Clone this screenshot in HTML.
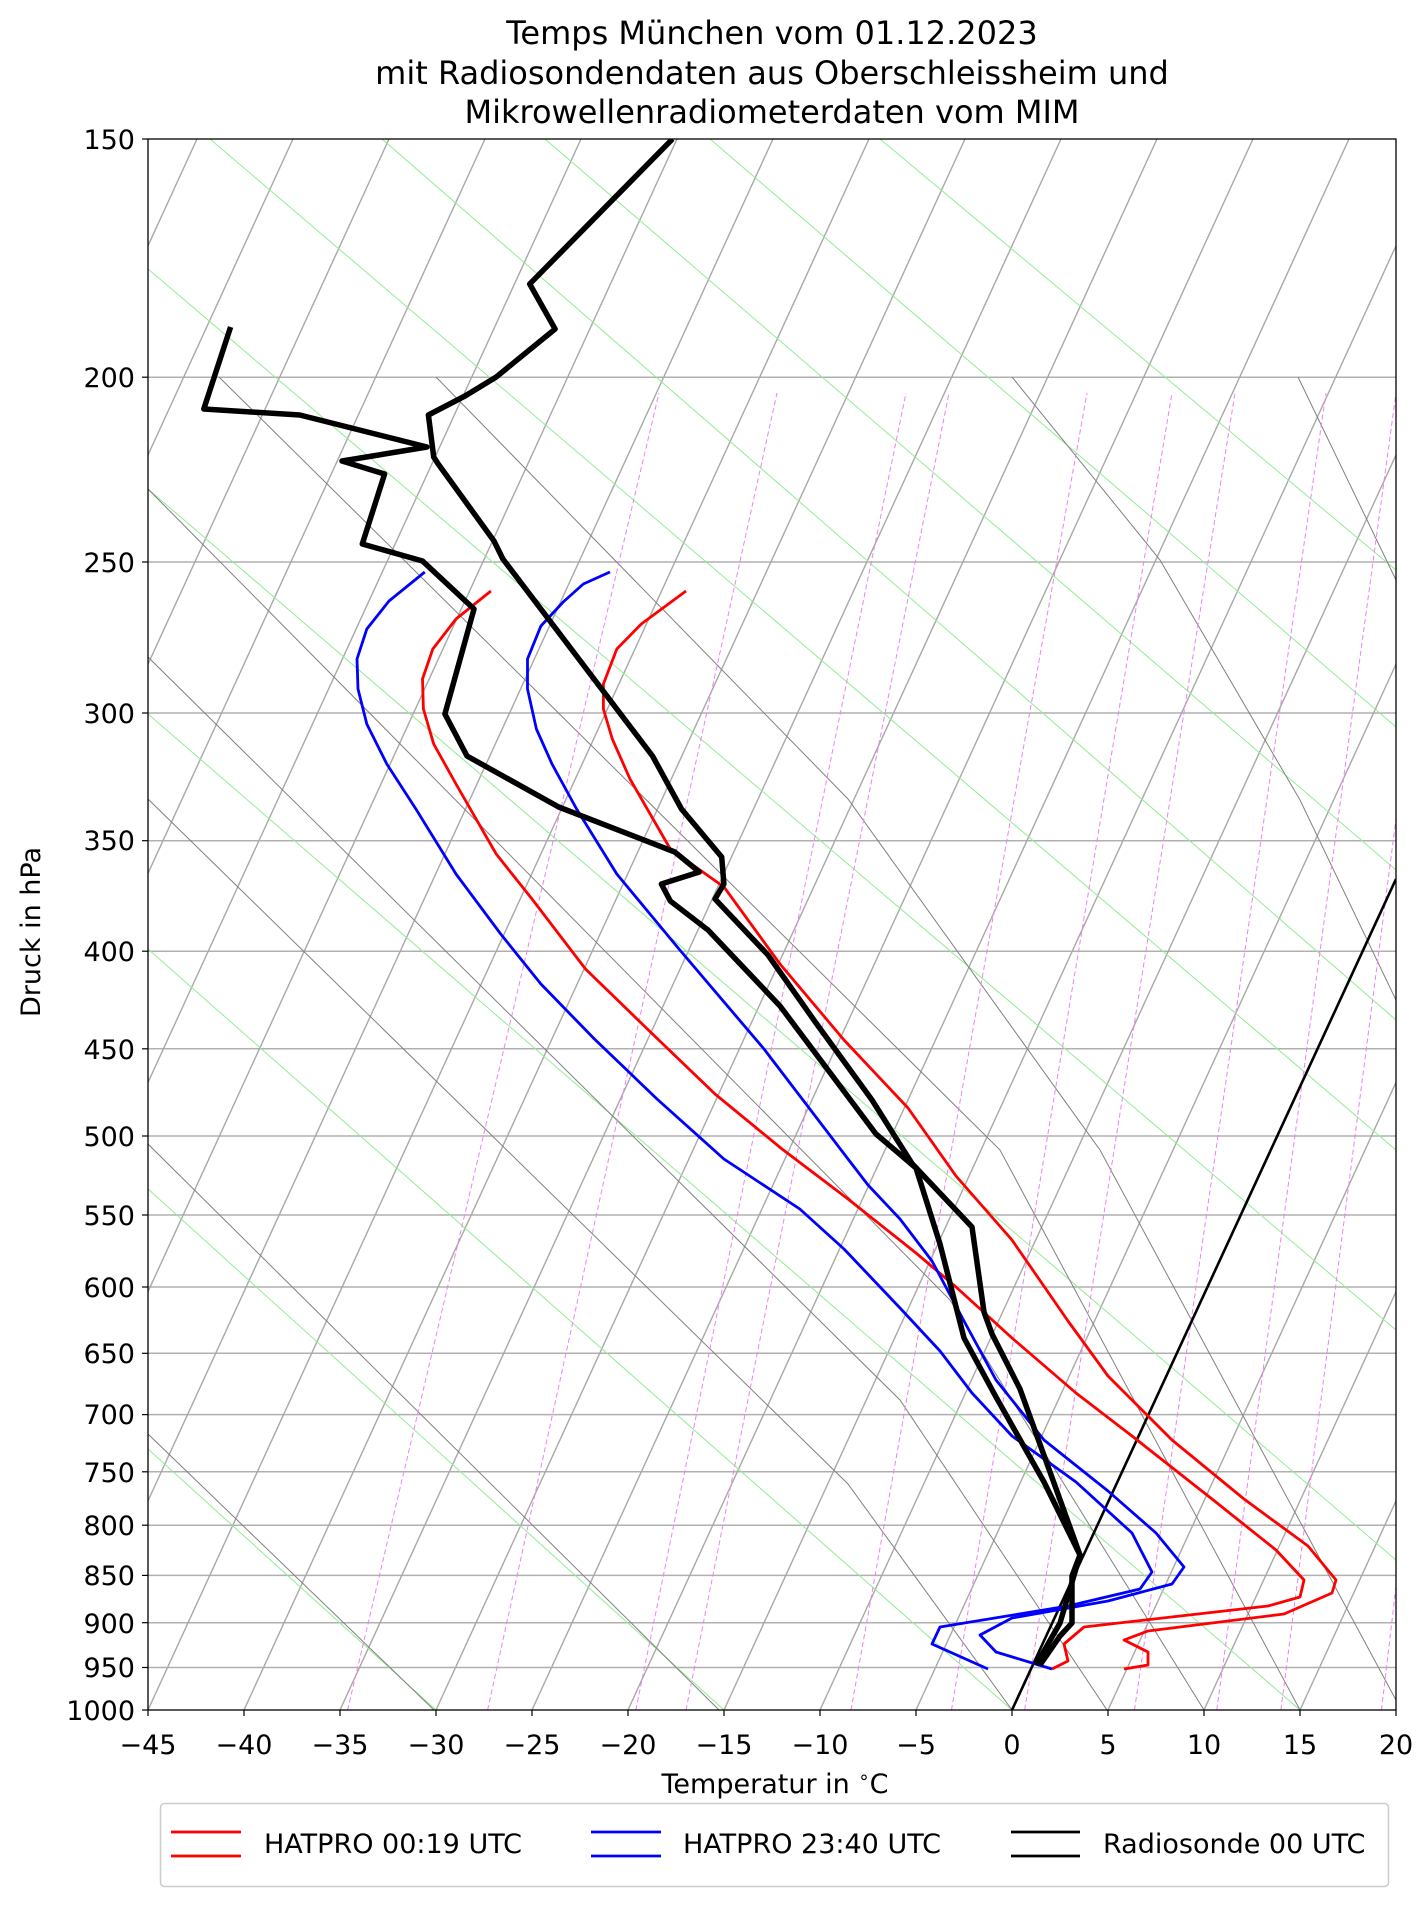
<!DOCTYPE html>
<html><head><meta charset="utf-8"><style>
html,body{margin:0;padding:0;background:#fff;}
svg{display:block;font-family:"DejaVu Sans","Liberation Sans",sans-serif;}
</style></head><body>
<svg width="1427" height="1907" viewBox="0 0 1427 1907" xmlns="http://www.w3.org/2000/svg">
<defs><clipPath id="c"><rect x="148" y="139" width="1248" height="1571"/></clipPath></defs>
<rect width="1427" height="1907" fill="#fff"/>
<g text-anchor="middle" font-size="32" fill="#000">
<text x="772" y="44">Temps München vom 01.12.2023</text>
<text x="772" y="84">mit Radiosondendaten aus Oberschleissheim und</text>
<text x="772" y="123">Mikrowellenradiometerdaten vom MIM</text>
</g>
<g clip-path="url(#c)">
<g stroke="#b0b0b0" stroke-width="1.5">
<line x1="148" x2="1396" y1="377.2" y2="377.2"/><line x1="148" x2="1396" y1="562" y2="562"/>
<line x1="148" x2="1396" y1="713" y2="713"/><line x1="148" x2="1396" y1="840.7" y2="840.7"/>
<line x1="148" x2="1396" y1="951.2" y2="951.2"/><line x1="148" x2="1396" y1="1048.8" y2="1048.8"/>
<line x1="148" x2="1396" y1="1136" y2="1136"/><line x1="148" x2="1396" y1="1215" y2="1215"/>
<line x1="148" x2="1396" y1="1287" y2="1287"/><line x1="148" x2="1396" y1="1353.3" y2="1353.3"/>
<line x1="148" x2="1396" y1="1414.6" y2="1414.6"/><line x1="148" x2="1396" y1="1471.8" y2="1471.8"/>
<line x1="148" x2="1396" y1="1525.2" y2="1525.2"/><line x1="148" x2="1396" y1="1575.4" y2="1575.4"/>
<line x1="148" x2="1396" y1="1622.7" y2="1622.7"/><line x1="148" x2="1396" y1="1667.5" y2="1667.5"/>
</g>
<g stroke="#a8a8a8" stroke-width="1.4">
<line x1="-620" y1="1710" x2="101" y2="139"/><line x1="-524" y1="1710" x2="197" y2="139"/>
<line x1="-428" y1="1710" x2="293" y2="139"/><line x1="-332" y1="1710" x2="389" y2="139"/>
<line x1="-236" y1="1710" x2="485" y2="139"/><line x1="-140" y1="1710" x2="581" y2="139"/>
<line x1="-44" y1="1710" x2="677" y2="139"/><line x1="52" y1="1710" x2="773" y2="139"/>
<line x1="148" y1="1710" x2="869" y2="139"/><line x1="244" y1="1710" x2="965" y2="139"/>
<line x1="340" y1="1710" x2="1061" y2="139"/><line x1="436" y1="1710" x2="1157" y2="139"/>
<line x1="532" y1="1710" x2="1253" y2="139"/><line x1="628" y1="1710" x2="1349" y2="139"/>
<line x1="724" y1="1710" x2="1445" y2="139"/><line x1="820" y1="1710" x2="1541" y2="139"/>
<line x1="916" y1="1710" x2="1637" y2="139"/><line x1="1108" y1="1710" x2="1829" y2="139"/>
<line x1="1204" y1="1710" x2="1925" y2="139"/><line x1="1300" y1="1710" x2="2021" y2="139"/>
</g>
<g stroke="#90ee90" stroke-width="1" fill="none">
<line x1="148" y1="1449" x2="436" y2="1710"/><line x1="148" y1="1189" x2="724" y2="1710"/>
<line x1="148" y1="949" x2="1012" y2="1710"/><line x1="148" y1="714" x2="1300" y2="1710"/>
<line x1="148" y1="489" x2="1396" y2="1560"/><line x1="148" y1="269" x2="1396" y2="1330"/>
<line x1="210" y1="139" x2="1396" y2="1150"/><line x1="382" y1="139" x2="1396" y2="1020"/>
<line x1="545" y1="139" x2="1396" y2="870"/><line x1="710" y1="139" x2="1396" y2="727"/>
<line x1="880" y1="139" x2="1396" y2="570"/>
</g>
<g stroke="#808080" stroke-width="1" fill="none">
<polyline points="148,1434 434,1710"/><polyline points="148,1144 719,1710"/>
<polyline points="148,799 848,1484 1012,1710"/>
<polyline points="148,657 900,1400 1107,1710"/>
<polyline points="148,489 950,1300 1204,1710"/>
<polyline points="219,377 1000,1150 1300,1710"/>
<polyline points="436,377 848,799 1100,1150 1396,1700"/>
<polyline points="1012,377 1160,560 1300,800 1396,1000"/>
<polyline points="1298,377 1396,580"/>
</g>
<g stroke="#ee82ee" stroke-width="1" stroke-dasharray="5,3" fill="none">
<line x1="347.6" y1="1710" x2="659" y2="393"/><line x1="487.6" y1="1710" x2="777" y2="393"/>
<line x1="635.8" y1="1710" x2="906" y2="393"/><line x1="686" y1="1710" x2="949" y2="393"/>
<line x1="851" y1="1710" x2="1087" y2="393"/><line x1="951.5" y1="1710" x2="1172" y2="393"/>
<line x1="1024.7" y1="1710" x2="1235" y2="393"/><line x1="1134.5" y1="1710" x2="1326" y2="393"/>
<line x1="1216.8" y1="1710" x2="1396" y2="393"/><line x1="1280.9" y1="1710" x2="1451" y2="393"/>
<line x1="1381.5" y1="1710" x2="1536" y2="393"/>
</g>
<line x1="1012" y1="1710" x2="1396" y2="879" stroke="#000" stroke-width="2.6"/>
<g fill="none" stroke-linejoin="round" stroke-width="2.8">
<polyline stroke="#ff0000" points="686,591 641.3,624 616.8,649 603.4,684 603.4,709 612.3,739 630,779 670.3,849 724,887 780,964 844,1040 908,1108 956,1176 1012,1240 1068,1321 1108,1376 1172,1440 1244,1499 1308,1546 1336,1580 1332,1593 1284,1614 1148,1631 1124,1640 1148,1652 1148,1665 1124,1669"/>
<polyline stroke="#ff0000" points="490.9,591 456,619 432.8,649 422.5,679 423.4,709 433.7,744 456,784 496.2,854 532,899 585.5,969 652.5,1034 715,1094 782,1149 848,1199 916,1253 956,1287 1012,1338 1076,1393 1132,1436 1212,1499 1276,1550 1304,1580 1300,1597 1268,1606 1084,1627 1064,1644 1068,1661 1052,1669"/>
<polyline stroke="#0000ff" points="610,572 583.3,584 563.2,602 540.9,626 527.5,659 527.5,689 536.4,729 552,764 576.6,809 616.8,874 679,949 764,1049 848,1159 868,1185 900,1219 932,1261 964,1321 996,1380 1044,1440 1108,1491 1156,1533 1184,1567 1172,1584 1108,1601 1012,1618 980,1635 996,1652 1052,1669"/>
<polyline stroke="#0000ff" points="424.8,572 389,601 366.8,629 357,659 358,689 366.8,724 386.8,764 415.9,809 456,874 500.7,934 540.9,984 594.4,1039 657,1099 723.9,1159 799.8,1209 844,1249 900,1308 940,1351 972,1393 1012,1436 1076,1482 1132,1533 1152,1572 1140,1589 1068,1606 940,1627 932,1644 988,1669"/>
</g>
<g fill="none" stroke="#000" stroke-linejoin="round" stroke-width="5.5">
<polyline points="672.5,139 529.7,284 555.1,329 496.2,377 465,396 428.4,415 433.7,457 438.2,464 494,541 502.9,559 652.5,756 681.5,809 721.7,857 723.9,884 715,899 768,955 816,1023 872,1100 912,1163.5 972,1227 984,1312 992,1334 1020,1389 1080,1555 1072,1576 1072,1623 1060,1636 1040,1665"/>
<polyline points="230.6,327 203.8,409 299.8,415 427,447 342,461 384.6,474 362.3,544 422.5,561 474,609 444.9,714 467,756 558.7,807 674.8,852 699.3,872 661.4,884 670.3,901 708,930 780,1006 876,1134 916,1168 940,1244 964,1338 996,1397 1044,1482 1080,1555 1060,1623 1036,1665"/>
</g>
</g>
<rect x="148" y="139" width="1248" height="1571" fill="none" stroke="#000" stroke-width="1.3"/>
<g stroke="#000" stroke-width="1.2">
<line x1="142" x2="148" y1="139" y2="139"/><line x1="142" x2="148" y1="377.2" y2="377.2"/><line x1="142" x2="148" y1="562" y2="562"/><line x1="142" x2="148" y1="713" y2="713"/><line x1="142" x2="148" y1="840.7" y2="840.7"/><line x1="142" x2="148" y1="951.2" y2="951.2"/><line x1="142" x2="148" y1="1048.8" y2="1048.8"/><line x1="142" x2="148" y1="1136" y2="1136"/><line x1="142" x2="148" y1="1215" y2="1215"/><line x1="142" x2="148" y1="1287" y2="1287"/><line x1="142" x2="148" y1="1353.3" y2="1353.3"/><line x1="142" x2="148" y1="1414.6" y2="1414.6"/><line x1="142" x2="148" y1="1471.8" y2="1471.8"/><line x1="142" x2="148" y1="1525.2" y2="1525.2"/><line x1="142" x2="148" y1="1575.4" y2="1575.4"/><line x1="142" x2="148" y1="1622.7" y2="1622.7"/><line x1="142" x2="148" y1="1667.5" y2="1667.5"/><line x1="142" x2="148" y1="1710" y2="1710"/>
<line x1="148" x2="148" y1="1710" y2="1716"/><line x1="244" x2="244" y1="1710" y2="1716"/><line x1="340" x2="340" y1="1710" y2="1716"/><line x1="436" x2="436" y1="1710" y2="1716"/><line x1="532" x2="532" y1="1710" y2="1716"/><line x1="628" x2="628" y1="1710" y2="1716"/><line x1="724" x2="724" y1="1710" y2="1716"/><line x1="820" x2="820" y1="1710" y2="1716"/><line x1="916" x2="916" y1="1710" y2="1716"/><line x1="1012" x2="1012" y1="1710" y2="1716"/><line x1="1108" x2="1108" y1="1710" y2="1716"/><line x1="1204" x2="1204" y1="1710" y2="1716"/><line x1="1300" x2="1300" y1="1710" y2="1716"/><line x1="1396" x2="1396" y1="1710" y2="1716"/>
</g>
<g font-size="27" text-anchor="end" fill="#000">
<text x="135" y="149">150</text><text x="135" y="387">200</text><text x="135" y="572">250</text><text x="135" y="723">300</text><text x="135" y="850">350</text><text x="135" y="961">400</text><text x="135" y="1059">450</text><text x="135" y="1146">500</text><text x="135" y="1225">550</text><text x="135" y="1297">600</text><text x="135" y="1363">650</text><text x="135" y="1424">700</text><text x="135" y="1482">750</text><text x="135" y="1535">800</text><text x="135" y="1585">850</text><text x="135" y="1633">900</text><text x="135" y="1677">950</text><text x="135" y="1720">1000</text>
</g>
<g font-size="27" text-anchor="middle" fill="#000">
<text x="148" y="1754">−45</text><text x="244" y="1754">−40</text><text x="340" y="1754">−35</text><text x="436" y="1754">−30</text><text x="532" y="1754">−25</text><text x="628" y="1754">−20</text><text x="724" y="1754">−15</text><text x="820" y="1754">−10</text><text x="916" y="1754">−5</text><text x="1012" y="1754">0</text><text x="1108" y="1754">5</text><text x="1204" y="1754">10</text><text x="1300" y="1754">15</text><text x="1396" y="1754">20</text>
<text x="775" y="1793">Temperatur in <tspan dy="-10" font-size="18">∘</tspan><tspan dy="10">C</tspan></text>
</g>
<text x="0" y="0" font-size="27" text-anchor="middle" transform="translate(40,932) rotate(-90)">Druck in hPa</text>
<rect x="160.5" y="1803.5" width="1228" height="83" rx="4" fill="#fff" stroke="#cccccc" stroke-width="1.5"/>
<g stroke-width="2.8">
<line x1="171" x2="241" y1="1832" y2="1832" stroke="#ff0000"/><line x1="171" x2="241" y1="1856" y2="1856" stroke="#ff0000"/>
<line x1="591" x2="661" y1="1832" y2="1832" stroke="#0000ff"/><line x1="591" x2="661" y1="1856" y2="1856" stroke="#0000ff"/>
<line x1="1011" x2="1080" y1="1832" y2="1832" stroke="#000"/><line x1="1011" x2="1080" y1="1856" y2="1856" stroke="#000"/>
</g>
<g font-size="27" fill="#000">
<text x="264" y="1853">HATPRO 00:19 UTC</text>
<text x="683" y="1853">HATPRO 23:40 UTC</text>
<text x="1103" y="1853">Radiosonde 00 UTC</text>
</g>
</svg>
</body></html>
